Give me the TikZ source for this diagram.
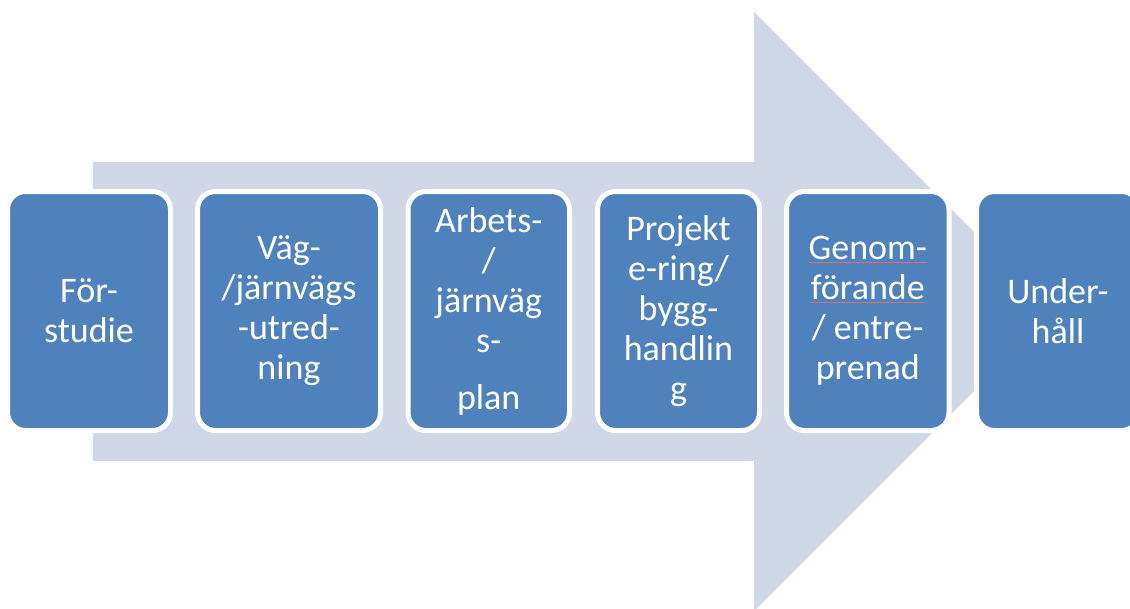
\documentclass[tikz,border=0pt]{standalone}
\usepackage{fontspec}
\setmainfont{Carlito}
\definecolor{stageblue}{HTML}{4F81BD}
\definecolor{flowgray}{HTML}{D0D8E8}
\definecolor{spellred}{HTML}{D87070}
% thin red underline as left by a spell checker
\newcommand\spellflag[1]{\sbox0{#1}\rlap{\color{spellred}\rule[-2.5pt]{\wd0}{0.5pt}}\usebox0}
\begin{document}
\begin{tikzpicture}[x=1pt,y=-1pt,
  stage/.style={rounded corners=18pt, fill=stageblue, draw=white, line width=5pt,
    minimum height=239pt, inner sep=0pt, text=white, align=center,
    font=\fontsize{36}{40}\selectfont}]
\clip (0,0) rectangle (1130,608);
\fill[white] (0,0) rectangle (1130,608);
% broad process arrow behind the stages
\fill[flowgray] (93,162) -- (754,162) -- (754,12) -- (1053.5,311.5)
  -- (754,611) -- (754,461) -- (93,461) -- cycle;
% stages
\node[stage, minimum width=163pt] (s1) at (89,311) {För-\\studie};
\node[stage, minimum width=183pt] (s2) at (289,311) {Väg-\\/järnvägs\\-utred-\\ning};
\node[stage, minimum width=161.5pt] (s3) at (488.75,311) {Arbets-\\/\\järnväg\\s-\\[17pt]plan};
\node[stage, minimum width=162pt] (s4) at (678.5,311) {Projekt\\e-ring/\\bygg-\\handlin\\g};
\node[stage, minimum width=162.5pt] (s5) at (867.75,311) {\spellflag{Genom-}\\\spellflag{förande}\\/ entre-\\prenad};
\node[stage, minimum width=163pt] (s6) at (1058,311) {Under-\\håll};
\end{tikzpicture}
\end{document}
